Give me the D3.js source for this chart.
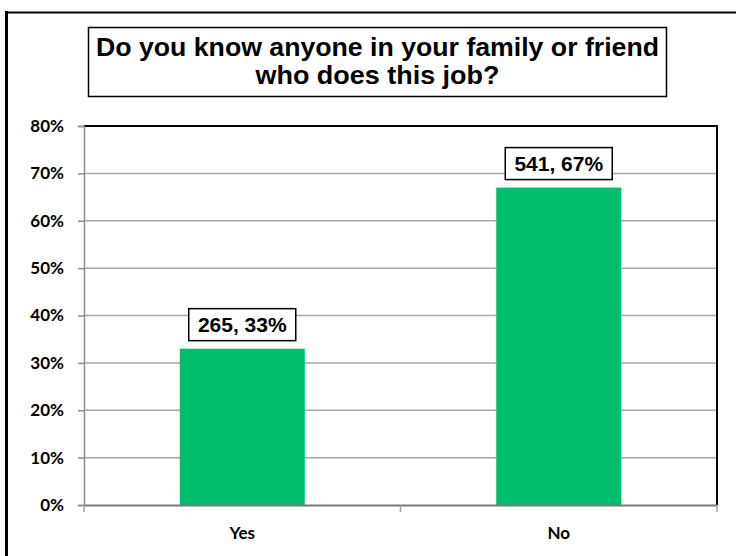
<!DOCTYPE html>
<html>
<head>
<meta charset="utf-8">
<script src="https://cdn.jsdelivr.net/npm/d3@7"></script>
<style>
  html, body { margin: 0; padding: 0; background: #fff; }
  svg { display: block; }
</style>
</head>
<body>
<svg id="chart" width="736" height="556"></svg>
<script>
// Survey answers and their counts / shares
const categories = ["Yes", "No"];
const counts = [265, 541];
const shares = [0.33, 0.67];
const yTicks = [0, 0.1, 0.2, 0.3, 0.4, 0.5, 0.6, 0.7, 0.8];
const titleLines = ["Do you know anyone in your family or friend", "who does this job?"];

const svg = d3.select("#chart");
const W = 736, H = 556;
const plot = { left: 84, right: 717, top: 126, bottom: 505 };

// outer chart frame (left and top edges visible)
svg.append("line").attr("x1", 6.5).attr("x2", 6.5).attr("y1", 11).attr("y2", H + 5)
  .attr("stroke", "#000").attr("stroke-width", 3);
svg.append("line").attr("x1", 5).attr("x2", W + 5).attr("y1", 12.5).attr("y2", 12.5)
  .attr("stroke", "#000").attr("stroke-width", 2);

// title box
const titleBox = { x: 88.5, y: 27.5, w: 578, h: 69 };
svg.append("rect").attr("x", titleBox.x).attr("y", titleBox.y)
  .attr("width", titleBox.w).attr("height", titleBox.h)
  .attr("fill", "#fff").attr("stroke", "#000").attr("stroke-width", 1.5);
const titleCx = titleBox.x + titleBox.w / 2;
const titleWidths = [563, 244];
titleLines.forEach((t, i) => {
  svg.append("text")
    .attr("x", titleCx).attr("y", 55.5 + i * 28.5)
    .attr("text-anchor", "middle")
    .attr("font-family", "Liberation Sans, Arial, sans-serif")
    .attr("font-weight", "bold").attr("font-size", 25.5)
    .attr("textLength", titleWidths[i]).attr("lengthAdjust", "spacingAndGlyphs")
    .attr("fill", "#000").text(t);
});

// scales
const x = d3.scaleBand().domain(categories).range([plot.left, plot.right]).padding(0);
const y = d3.scaleLinear().domain([0, 0.8]).range([plot.bottom, plot.top]);
const barW = x.bandwidth() * 0.395;

// gridlines
svg.append("g").selectAll("line").data(yTicks.filter(d => d > 0 && d < 0.8)).join("line")
  .attr("x1", plot.left).attr("x2", plot.right)
  .attr("y1", d => y(d)).attr("y2", d => y(d))
  .attr("stroke", "#a6a6a6").attr("stroke-width", 1.5);

// plot border (top & right)
svg.append("path")
  .attr("d", `M${plot.left},${plot.top}H${plot.right}V${plot.bottom}`)
  .attr("fill", "none").attr("stroke", "#000").attr("stroke-width", 2);

// bars
svg.append("g").selectAll("rect").data(categories).join("rect")
  .attr("x", d => x(d) + (x.bandwidth() - barW) / 2)
  .attr("width", barW)
  .attr("y", (d, i) => y(shares[i]))
  .attr("height", (d, i) => y(0) - y(shares[i]))
  .attr("fill", "#00be6e");

// y axis
const yAxis = svg.append("g").attr("transform", `translate(${plot.left},0)`)
  .call(d3.axisLeft(y).tickValues(yTicks).tickFormat(d3.format(".0%")).tickSize(6).tickPadding(14));
yAxis.select(".domain").attr("stroke", "#8c8c8c").attr("stroke-width", 1.5);
yAxis.selectAll(".tick line").attr("stroke", "#8c8c8c").attr("stroke-width", 1.5);
yAxis.selectAll(".tick text")
  .attr("font-family", "Lato, sans-serif").attr("font-weight", "bold")
  .attr("font-size", 17).attr("fill", "#000");

// x axis
const xAxis = svg.append("g").attr("transform", `translate(0,${plot.bottom})`)
  .call(d3.axisBottom(x).tickSize(0).tickPadding(22));
xAxis.select(".domain").attr("stroke", "#7a7a7a").attr("stroke-width", 2);
xAxis.selectAll(".tick text")
  .attr("font-family", "Lato, sans-serif").attr("font-weight", "bold")
  .attr("font-size", 17).attr("fill", "#000");
// category boundary tick marks
const bounds = [plot.left].concat(categories.map(c => x(c) + x.bandwidth()));
xAxis.append("g").selectAll("line").data(bounds).join("line")
  .attr("x1", d => d).attr("x2", d => d).attr("y1", 0).attr("y2", 7)
  .attr("stroke", "#a0a0a0").attr("stroke-width", 1.5);

// data labels in boxes
const lbl = svg.append("g").selectAll("g").data(categories).join("g")
  .attr("transform", (d, i) => `translate(${x(d) + x.bandwidth() / 2},${y(shares[i]) - 8})`);
lbl.append("rect")
  .attr("x", -53.5).attr("y", -32).attr("width", 107).attr("height", 32)
  .attr("fill", "#fff").attr("stroke", "#000").attr("stroke-width", 1.5);
lbl.append("text")
  .attr("x", 0).attr("y", -8.5)
  .attr("text-anchor", "middle")
  .attr("font-family", "Liberation Sans, Arial, sans-serif")
  .attr("font-weight", "bold").attr("font-size", 21).attr("fill", "#000")
  .text((d, i) => `${counts[i]}, ${Math.round(shares[i] * 100)}%`);
</script>
</body>
</html>
